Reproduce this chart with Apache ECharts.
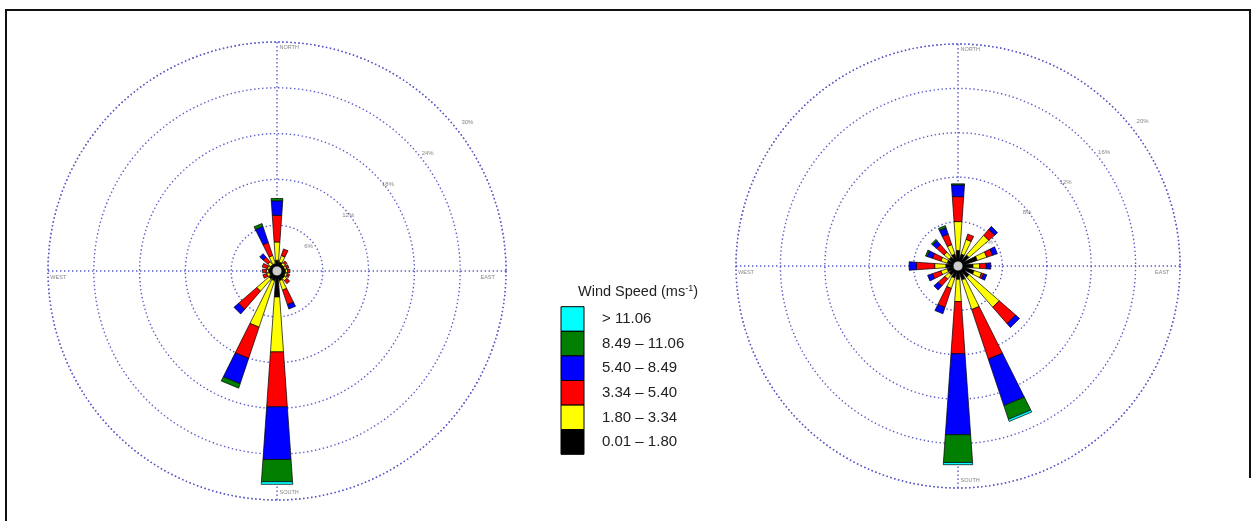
<!DOCTYPE html>
<html>
<head>
<meta charset="utf-8">
<script src="https://cdn.jsdelivr.net/npm/echarts@6/dist/echarts.min.js"></script>
<style>
  html, body { margin: 0; padding: 0; background: #fff; }
  #chart { width: 1257px; height: 521px; }
</style>
</head>
<body>
<div id="chart"></div>
<script>
// 16 compass sectors, clockwise from north
const directions = ["N", "NNE", "NE", "ENE", "E", "ESE", "SE", "SSE", "S", "SSW", "SW", "WSW", "W", "WNW", "NW", "NNW"]
// wind speed classes, innermost first
const speedClasses = ["0.01 – 1.80", "1.80 – 3.34", "3.34 – 5.40", "5.40 – 8.49", "8.49 – 11.06", "> 11.06"]
const classColors = ["#000000", "#ffff00", "#ff0000", "#0000ff", "#007f00", "#00ffff"]

// left rose, frequency (%) per class
const leftClass1 = [1.4, 1.2, 1.0, 1.0, 1.1, 1.1, 1.2, 1.3, 3.4, 1.3, 1.3, 1.0, 1.1, 1.0, 1.0, 1.0]
const leftClass2 = [2.4, 0.9, 0.35, 0.3, 0.3, 0.3, 0.4, 1.3, 7.2, 6.4, 2.1, 0.4, 0.3, 0.3, 0.5, 1.1]
const leftClass3 = [3.5, 0.9, 0.3, 0.3, 0.3, 0.3, 0.5, 2.0, 7.2, 4.3, 3.15, 0.5, 0.5, 0.7, 0.8, 1.8]
const leftClass4 = [1.9, 0, 0, 0, 0, 0, 0, 0.6, 6.9, 3.5, 0.8, 0, 0, 0, 0.6, 2.2]
const leftClass5 = [0.3, 0, 0, 0, 0, 0, 0, 0, 2.9, 0.6, 0, 0, 0, 0, 0, 0.4]
const leftClass6 = [0, 0, 0, 0, 0, 0, 0, 0, 0.35, 0, 0, 0, 0, 0, 0, 0]

// right rose, frequency (%) per class
const rightClass1 = [1.4, 1.1, 1.25, 1.8, 1.35, 1.5, 1.26, 1.3, 1.2, 1.1, 1.0, 1.0, 1.1, 1.0, 1.0, 1.1]
const rightClass2 = [2.6, 1.4, 2.35, 0.9, 0.6, 0.7, 3.58, 2.8, 2.0, 1.0, 0.5, 0.6, 1.0, 0.6, 0.6, 0.9]
const rightClass3 = [2.25, 0.5, 0.7, 0.55, 0.6, 0.2, 1.96, 4.7, 4.7, 1.8, 0.8, 0.8, 1.65, 0.8, 0.9, 1.0]
const rightClass4 = [1.05, 0, 0.35, 0.45, 0.4, 0.3, 0.46, 4.4, 7.3, 0.6, 0.5, 0.45, 0.65, 0.5, 0.45, 0.6]
const rightClass5 = [0.1, 0, 0, 0, 0, 0, 0, 1.3, 2.5, 0, 0, 0, 0, 0.15, 0.15, 0.2]
const rightClass6 = [0, 0, 0, 0, 0, 0, 0, 0.2, 0.2, 0, 0, 0, 0, 0, 0, 0]

const leftRings = [6, 12, 18, 24, 30]
const rightRings = [4, 8, 12, 16, 20]
const compassNames = ["NORTH", "EAST", "SOUTH", "WEST"]

const leftData = [leftClass1, leftClass2, leftClass3, leftClass4, leftClass5, leftClass6]
const rightData = [rightClass1, rightClass2, rightClass3, rightClass4, rightClass5, rightClass6]

const ringColor = "#5c5cc8"
const dotted = { color: ringColor, width: 1.4, type: [1.4, 2.6] }
const font = "Liberation Sans, Arial, sans-serif"

// petal width grows with distance, like the wrplot wedges
const petalSlope = 0.14
const petalOffset = 12

const chart = echarts.init(document.getElementById("chart"))

const roses = [
	{ center: [277, 271], radius: 229, max: 30, rings: leftRings, data: leftData },
	{ center: [958, 266], radius: 222, max: 20, rings: rightRings, data: rightData },
]

const renderPetal = (params, api) => {
	let r0 = api.value(0)
	let r1 = api.value(1)
	let ang = api.value(2)
	let c = api.coord([0, ang])
	let p0 = api.coord([r0, ang])
	let p1 = api.coord([r1, ang])
	let d0 = Math.hypot(p0[0] - c[0], p0[1] - c[1])
	let d1 = Math.hypot(p1[0] - c[0], p1[1] - c[1])
	let ux = (p1[0] - c[0]) / d1
	let uy = (p1[1] - c[1]) / d1
	let nx = -uy
	let ny = ux
	let h0 = (petalSlope * (d0 + petalOffset)) / 2
	let h1 = (petalSlope * (d1 + petalOffset)) / 2
	return {
		type: "polygon",
		shape: {
			points: [
				[p0[0] + nx * h0, p0[1] + ny * h0],
				[p1[0] + nx * h1, p1[1] + ny * h1],
				[p1[0] - nx * h1, p1[1] - ny * h1],
				[p0[0] - nx * h0, p0[1] - ny * h0],
			],
		},
		style: { fill: api.visual("color"), stroke: "#000", lineWidth: 0.7 },
	}
}

let polar = []
let angleAxis = []
let radiusAxis = []
let series = []

roses.forEach((rose, i) => {
	polar.push({ center: rose.center, radius: rose.radius })

	angleAxis.push({
		polarIndex: i,
		type: "value",
		min: 0,
		max: 360,
		interval: 90,
		startAngle: 90,
		clockwise: true,
		axisLine: { show: true, lineStyle: dotted },
		axisTick: { show: false },
		axisLabel: { show: false },
		splitLine: { show: true, lineStyle: dotted },
	})

	radiusAxis.push({
		polarIndex: i,
		min: 0,
		max: rose.max,
		interval: rose.max / 5,
		axisLine: { show: false },
		axisTick: { show: false },
		axisLabel: { show: false },
		splitLine: { show: true, lineStyle: dotted },
	})

	// stacked petals, one series per speed class
	let cum = directions.map(() => 0)
	rose.data.forEach((vals, k) => {
		let items = []
		vals.forEach((v, d) => {
			let start = cum[d]
			cum[d] += v
			if (v > 0) items.push([start, cum[d], (d * 360) / directions.length])
		})
		series.push({
			name: speedClasses[k],
			type: "custom",
			coordinateSystem: "polar",
			polarIndex: i,
			encode: { radius: [0, 1], angle: 2 },
			data: items,
			renderItem: renderPetal,
			itemStyle: { color: classColors[k] },
			silent: true,
			z: 3,
		})
	})

	// ring percentage labels
	series.push({
		type: "scatter",
		coordinateSystem: "polar",
		polarIndex: i,
		clip: false,
		symbolSize: 1,
		itemStyle: { color: "transparent" },
		data: rose.rings.map((r) => ({ value: [r * 1.1 - rose.max * 0.045, 52], name: r + "%" })),
		label: {
			show: true,
			position: "inside",
			formatter: "{b}",
			fontSize: 6,
			fontFamily: font,
			color: "#666",
		},
		silent: true,
		z: 2,
	})

	// compass labels
	series.push({
		type: "scatter",
		coordinateSystem: "polar",
		polarIndex: i,
		symbolSize: 1,
		itemStyle: { color: "transparent" },
		data: [
			{ value: [rose.max * 0.975, 0], name: compassNames[0], label: { position: "right", distance: 2 } },
			{ value: [rose.max * 0.92, 90], name: compassNames[1], label: { position: "bottom", distance: 3 } },
			{ value: [rose.max * 0.965, 180], name: compassNames[2], label: { position: "right", distance: 2 } },
			{ value: [rose.max * 0.955, 270], name: compassNames[3], label: { position: "bottom", distance: 3 } },
		],
		label: {
			show: true,
			formatter: "{b}",
			fontSize: 5.5,
			fontFamily: font,
			color: "#666",
		},
		silent: true,
		z: 2,
	})

	// calm circle
	series.push({
		type: "scatter",
		coordinateSystem: "polar",
		polarIndex: i,
		symbolSize: 10,
		data: [[0, 0]],
		itemStyle: { color: "#fff", borderColor: "#000", borderWidth: 1 },
		silent: true,
		z: 10,
	})
})

// legend drawn as boxes, highest class on top
let legendTop = 306.7
let rowH = 24.6
let legendItems = []
speedClasses
	.slice()
	.reverse()
	.forEach((name, j) => {
		let k = speedClasses.length - 1 - j
		legendItems.push({
			type: "rect",
			shape: { x: 561, y: legendTop + j * rowH, width: 23, height: rowH },
			style: { fill: classColors[k], stroke: "#000", lineWidth: 1 },
		})
		legendItems.push({
			type: "text",
			x: 602,
			y: legendTop + j * rowH + rowH / 2,
			style: { text: name, fontSize: 15, fontFamily: font, fill: "#222", verticalAlign: "middle" },
		})
	})

let options = {
	animation: false,
	backgroundColor: "#fff",
	polar: polar,
	angleAxis: angleAxis,
	radiusAxis: radiusAxis,
	graphic: [
		{
			type: "text",
			x: 578,
			y: 284,
			style: {
				text: "{a|Wind Speed (ms}{s|-1}{a|)}",
				rich: {
					a: { fontSize: 14.5, fontFamily: font, fill: "#222" },
					s: { fontSize: 9, fontFamily: font, fill: "#222", verticalAlign: "top" },
				},
			},
		},
		...legendItems,
		{
			type: "polyline",
			shape: { points: [[6, 521], [6, 10], [1250, 10], [1250, 478]] },
			style: { stroke: "#111", lineWidth: 2, fill: null },
		},
	],
	series: series,
}

chart.setOption(options)
</script>
</body>
</html>
